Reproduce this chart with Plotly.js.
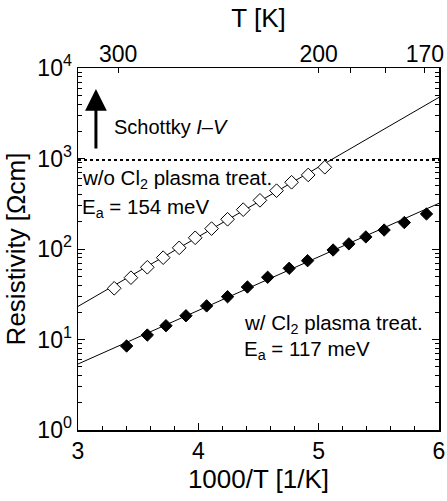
<!DOCTYPE html>
<html>
<head>
<meta charset="utf-8">
<script src="https://cdn.plot.ly/plotly-3.0.1.min.js"></script>
<style>
  html, body { margin: 0; padding: 0; background: #fff; }
  #chart { width: 447px; height: 501px; }
</style>
</head>
<body>
<div id="chart"></div>
<script>
// Resistivity vs inverse temperature (Arrhenius plot)
const untreatedInvT = [3.301, 3.440, 3.576, 3.708, 3.841, 3.974, 4.110, 4.243, 4.373, 4.512, 4.650, 4.775, 4.913, 5.051];
const untreatedRho  = [36.8, 48.2, 62.8, 80.2, 103, 133, 168, 213, 272, 345, 441, 546, 658, 800];

const treatedInvT = [3.404, 3.576, 3.731, 3.897, 4.069, 4.243, 4.408, 4.576, 4.755, 4.908, 5.120, 5.251, 5.392, 5.544, 5.712, 5.896];
const treatedRho  = [8.47, 11.2, 14.2, 18.3, 23.5, 29.7, 38.0, 48.7, 61.2, 74.3, 97.5, 114, 136, 162, 196, 244];

// Arrhenius fit lines (end points)
const untreatedFitX = [3, 6];
const untreatedFitY = [23.2, 4740];
const treatedFitX = [3, 6];
const treatedFitY = [5.36, 320];

// Upper limit of the Schottky I-V measurement
const schottkyX = [3, 6];
const schottkyY = [960, 960];

// Top axis: temperature in K
const topTemps = [300, 200, 190, 180, 170];
const topLabels = ['300', '200', '', '', '170'];

// Bottom axis
const invTTicks = [3, 4, 5, 6];
const invTLabels = ['3', '4', '5', '6'];
const invTMinor = [3.2, 3.4, 3.6, 3.8, 4.2, 4.4, 4.6, 4.8, 5.2, 5.4, 5.6, 5.8];

// Left axis: decades
const decadeVals = [1, 10, 100, 1000, 10000];
const decadeLabels = ['10<sup>0</sup>', '10<sup>1</sup>', '10<sup>2</sup>', '10<sup>3</sup>', '10<sup>4</sup>'];
const decadeMinor = [];
for (const d of [1, 10, 100, 1000]) {
  for (let k = 2; k <= 9; k++) decadeMinor.push(k * d);
}

const FONT = 'Liberation Sans, Arial, Helvetica, sans-serif';
const BLACK = '#000';

// hidden helpers so every axis has something to anchor to
const anchorTrace = (xa, ya) => ({
  x: [3, 6], y: [1, 1], mode: 'markers', marker: { opacity: 0, size: 1 },
  xaxis: xa, yaxis: ya, hoverinfo: 'skip'
});

const traces = [
  anchorTrace('x2', 'y'),
  anchorTrace('x3', 'y'),
  anchorTrace('x', 'y2'),
  {
    x: untreatedFitX, y: untreatedFitY, mode: 'lines',
    line: { color: BLACK, width: 1 }, xaxis: 'x', yaxis: 'y', hoverinfo: 'skip'
  },
  {
    x: treatedFitX, y: treatedFitY, mode: 'lines',
    line: { color: BLACK, width: 1 }, xaxis: 'x', yaxis: 'y', hoverinfo: 'skip'
  },
  {
    x: schottkyX, y: schottkyY, mode: 'lines',
    line: { color: BLACK, width: 2, dash: 'dot' }, xaxis: 'x', yaxis: 'y', hoverinfo: 'skip'
  },
  {
    x: untreatedInvT, y: untreatedRho, mode: 'markers', name: 'w/o Cl2',
    marker: { symbol: 'diamond', size: 10.5, color: '#fff', line: { color: BLACK, width: 1 } },
    xaxis: 'x', yaxis: 'y'
  },
  {
    x: treatedInvT, y: treatedRho, mode: 'markers', name: 'w/ Cl2',
    marker: { symbol: 'diamond', size: 9.5, color: BLACK, line: { color: BLACK, width: 1 } },
    xaxis: 'x', yaxis: 'y'
  }
];

const tickFont = { family: FONT, size: 23, color: BLACK };
const titleFont = { family: FONT, size: 26, color: BLACK };

const layout = {
  width: 447,
  height: 501,
  margin: { l: 78, r: 8, t: 68, b: 71 },
  paper_bgcolor: '#fff',
  plot_bgcolor: '#fff',
  showlegend: false,
  font: { family: FONT, color: BLACK, size: 20 },
  xaxis: {
    range: [3, 6],
    tickmode: 'array', tickvals: invTTicks, ticktext: invTLabels,
    ticks: 'inside', ticklen: 7, tickwidth: 1, tickcolor: BLACK,
    showline: true, linecolor: BLACK, linewidth: 1.5, mirror: true,
    showgrid: false, zeroline: false,
    tickfont: tickFont,
    title: { text: '1000/T [1/K]', font: titleFont, standoff: 6 }
  },
  // minor ticks along the bottom
  xaxis3: {
    overlaying: 'x', side: 'bottom', anchor: 'y',
    range: [3, 6],
    tickmode: 'array', tickvals: invTMinor,
    ticks: 'inside', ticklen: 4, tickwidth: 1, tickcolor: BLACK,
    showticklabels: false, showline: false, showgrid: false, zeroline: false
  },
  // temperature scale along the top
  xaxis2: {
    overlaying: 'x', side: 'top', anchor: 'y',
    range: [3, 6],
    tickmode: 'array',
    tickvals: topTemps.map(t => 1000 / t),
    ticktext: topLabels,
    ticks: 'inside', ticklen: 5, tickwidth: 1, tickcolor: BLACK,
    showline: false, showgrid: false, zeroline: false,
    tickfont: tickFont,
    title: { text: 'T [K]', font: titleFont, standoff: 6 }
  },
  yaxis: {
    type: 'log',
    range: [0, 4],
    tickmode: 'array',
    tickvals: decadeVals,
    ticktext: decadeLabels,
    ticks: 'inside', ticklen: 7, tickwidth: 1, tickcolor: BLACK,
    showline: true, linecolor: BLACK, linewidth: 1.5, mirror: 'ticks',
    showgrid: false, zeroline: false,
    tickfont: tickFont,
    title: { text: 'Resistivity [Ωcm]', font: titleFont, standoff: 4 }
  },
  // minor ticks on both vertical sides
  yaxis2: {
    type: 'log', overlaying: 'y', side: 'left', anchor: 'x',
    range: [0, 4],
    tickmode: 'array', tickvals: decadeMinor,
    ticks: 'inside', ticklen: 4, tickwidth: 1, tickcolor: BLACK,
    showticklabels: false,
    showline: true, linecolor: BLACK, linewidth: 1.5, mirror: 'ticks',
    showgrid: false, zeroline: false
  },
  annotations: [
    {
      // upward arrow above the measurement limit
      x: 3.149, y: 3.768, xref: 'x', yref: 'y',
      ax: 3.149, ay: 3.094, axref: 'x', ayref: 'y',
      text: '', showarrow: true,
      arrowhead: 2, arrowsize: 1.45, arrowwidth: 3, arrowcolor: BLACK, standoff: 0, startstandoff: 0
    },
    {
      x: 3.282, y: 3.348, xref: 'x', yref: 'y',
      xanchor: 'left', yanchor: 'middle', showarrow: false,
      text: 'Schottky <i>I</i>–<i>V</i>',
      font: { family: FONT, size: 20, color: BLACK }
    },
    {
      x: 3.02, y: 2.773, xref: 'x', yref: 'y',
      xanchor: 'left', yanchor: 'middle', showarrow: false,
      text: 'w/o Cl<sub>2</sub> plasma treat.',
      font: { family: FONT, size: 20.5, color: BLACK }
    },
    {
      x: 3.02, y: 2.453, xref: 'x', yref: 'y',
      xanchor: 'left', yanchor: 'middle', showarrow: false,
      text: 'E<sub>a</sub> = 154 meV',
      font: { family: FONT, size: 20.5, color: BLACK }
    },
    {
      x: 4.36, y: 1.171, xref: 'x', yref: 'y',
      xanchor: 'left', yanchor: 'middle', showarrow: false,
      text: 'w/ Cl<sub>2</sub> plasma treat.',
      font: { family: FONT, size: 20.5, color: BLACK }
    },
    {
      x: 4.36, y: 0.884, xref: 'x', yref: 'y',
      xanchor: 'left', yanchor: 'middle', showarrow: false,
      text: 'E<sub>a</sub> = 117 meV',
      font: { family: FONT, size: 20.5, color: BLACK }
    }
  ]
};

Plotly.newPlot('chart', traces, layout, { staticPlot: true, displayModeBar: false });
</script>
</body>
</html>
